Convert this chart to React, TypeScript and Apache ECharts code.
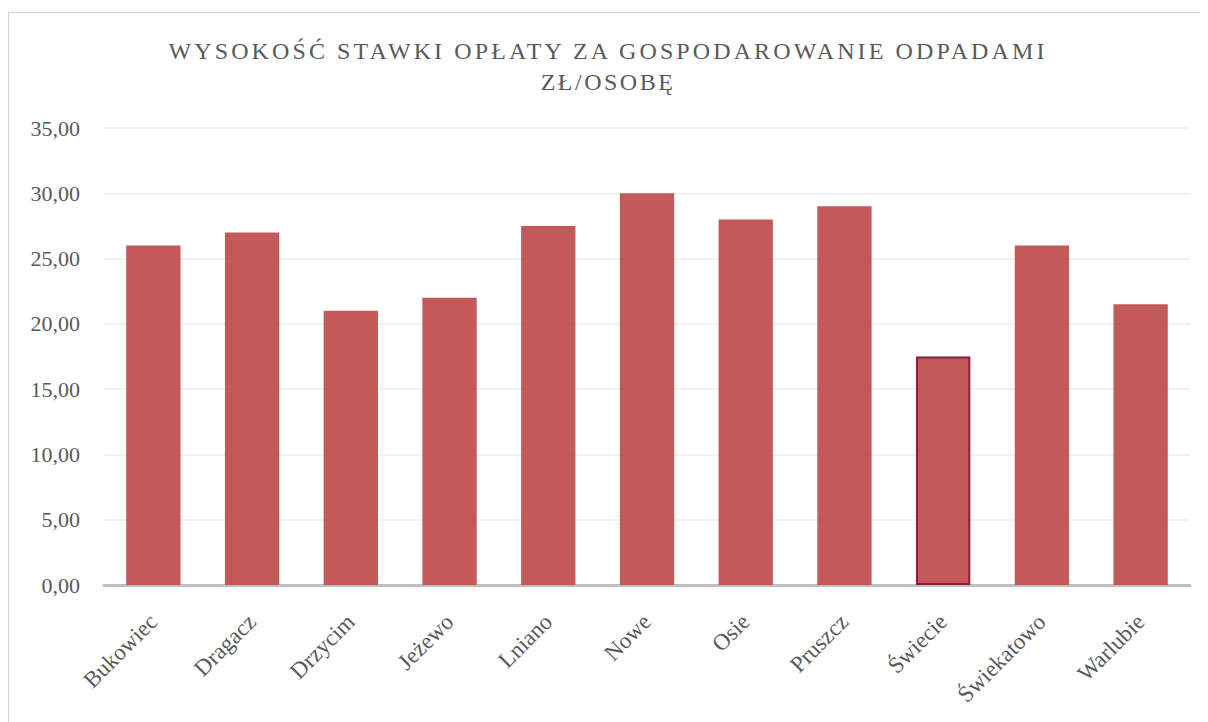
import React, { useEffect, useRef } from "react";
import * as echarts from "echarts";

const categories = ["Bukowiec", "Dragacz", "Drzycim", "Jeżewo", "Lniano", "Nowe", "Osie", "Pruszcz", "Świecie", "Świekatowo", "Warlubie"];
const values = [26.0, 27.0, 21.0, 22.0, 27.5, 30.0, 28.0, 29.0, 17.5, 26.0, 21.5];
const highlighted = "Świecie";
const titleLines = ["WYSOKOŚĆ STAWKI OPŁATY ZA GOSPODAROWANIE ODPADAMI", "ZŁ/OSOBĘ"];

const FONT = "Liberation Serif";

export default function App() {
  const ref = useRef<HTMLDivElement>(null);
  useEffect(() => {
    const chart = echarts.init(ref.current!, null, { renderer: "svg" });
    const data = values.map((v, i) =>
      categories[i] === highlighted
        ? { value: v, itemStyle: { borderColor: "#8a1c3c", borderWidth: 2 } }
        : { value: v }
    );
    chart.setOption({
      animation: false,
      backgroundColor: "#ffffff",
      textStyle: { fontFamily: FONT },
      title: {
        text: titleLines.join("\n"),
        left: "center",
        top: 22,
        padding: [5, 0, 5, 40],
        textStyle: {
          fontFamily: FONT,
          fontSize: 24,
          fontWeight: "normal",
          color: "#595959",
          lineHeight: 31,
        },
      },
      graphic: [
        {
          type: "rect",
          shape: { x: 0.5, y: 4.5, width: 1199, height: 730 },
          style: { fill: "none", stroke: "#d9d9d9", lineWidth: 1.5 },
          silent: true,
        },
      ],
      grid: { left: 96, right: 18, top: 120, bottom: 137, containLabel: false },
      xAxis: {
        type: "category",
        data: categories,
        axisLine: { lineStyle: { color: "#bfbfbf", width: 3 } },
        axisTick: { show: false },
        axisLabel: {
          rotate: 45,
          margin: 33,
          interval: 0,
          fontFamily: FONT,
          fontSize: 23,
          color: "#595959",
        },
      },
      yAxis: {
        type: "value",
        min: 0,
        max: 35,
        interval: 5,
        axisLine: { show: false },
        axisTick: { show: false },
        splitLine: { lineStyle: { color: "#ececec", width: 1.5 } },
        axisLabel: {
          margin: 24,
          fontFamily: FONT,
          fontSize: 22,
          color: "#595959",
          formatter: (v: number) => v.toFixed(2).replace(".", ","),
        },
      },
      series: [
        {
          type: "bar",
          data,
          barWidth: "55%",
          itemStyle: { color: "rgba(190,75,75,0.92)" },
        },
      ],
    });
    // widen the title's letter spacing like the original
    const texts = ref.current!.querySelectorAll("text");
    texts.forEach((t) => {
      const s = (t.textContent || "").trim();
      if (s === titleLines[0]) t.setAttribute("letter-spacing", "3.1");
      else if (s === titleLines[1]) t.setAttribute("letter-spacing", "2.5");
    });
    return () => chart.dispose();
  }, []);
  return <div ref={ref} style={{ width: 1200, height: 714 }} />;
}
